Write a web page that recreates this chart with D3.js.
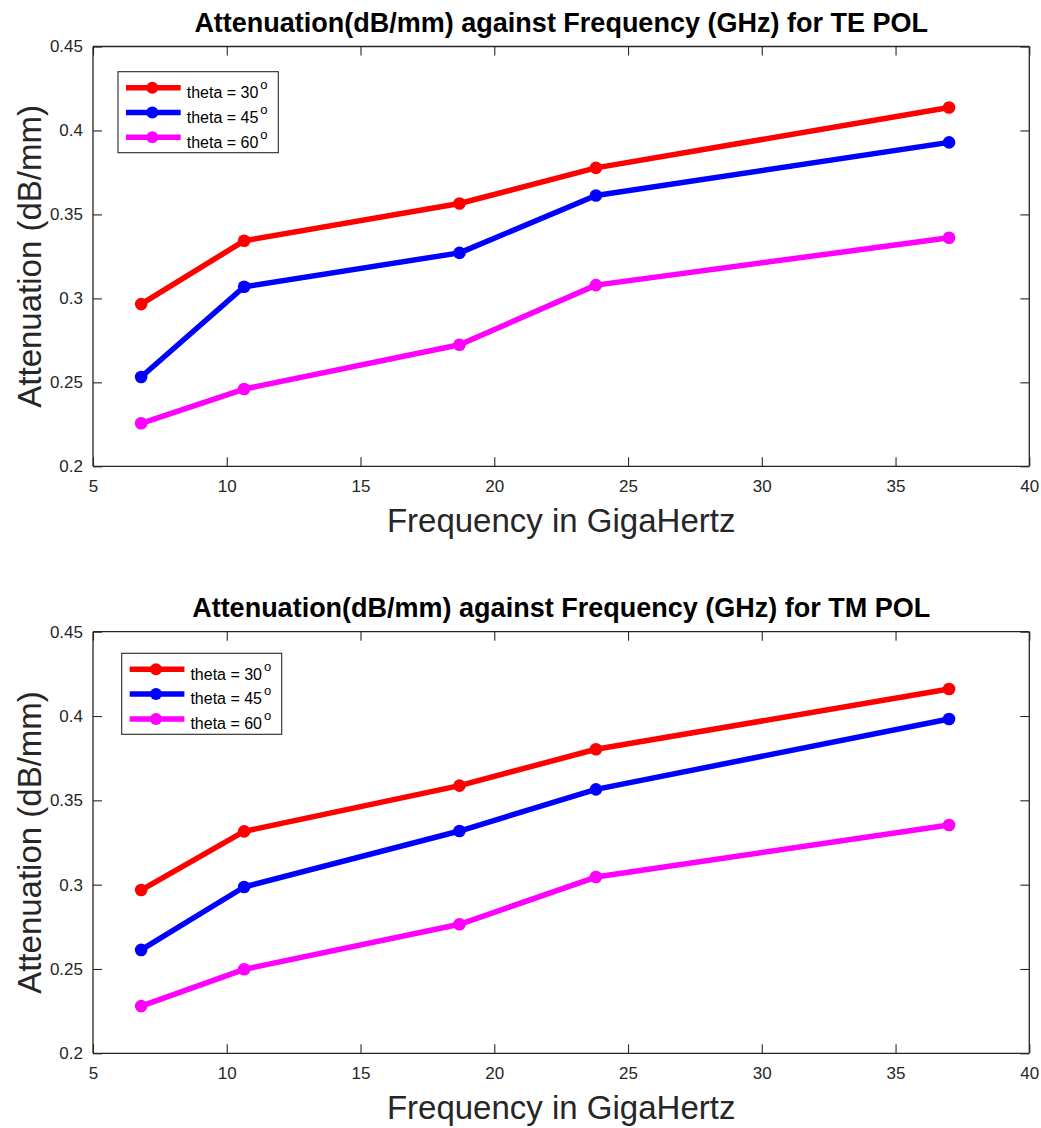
<!DOCTYPE html>
<html>
<head>
<meta charset="utf-8">
<script src="https://cdn.jsdelivr.net/npm/d3@7"></script>
<style>
  html, body { margin: 0; padding: 0; background: #fff; }
  svg { display: block; font-family: "Liberation Sans", Arial, Helvetica, sans-serif; }
</style>
</head>
<body>
<svg id="chart" width="1041" height="1128"></svg>
<script>
// ---------- data ----------
const frequencies = [6.8, 10.65, 18.7, 23.8, 37];
const seriesLabels = ["theta = 30", "theta = 45", "theta = 60"];
const seriesColors = ["#ff0000", "#0000ff", "#ff00ff"];

const teTheta30 = [0.2966, 0.3343, 0.3565, 0.3777, 0.4137];
const teTheta45 = [0.2532, 0.3069, 0.3271, 0.3613, 0.3929];
const teTheta60 = [0.2256, 0.2460, 0.2724, 0.3079, 0.3361];

const tmTheta30 = [0.2968, 0.3316, 0.3587, 0.3803, 0.4160];
const tmTheta45 = [0.2613, 0.2986, 0.3318, 0.3565, 0.3982];
const tmTheta60 = [0.2280, 0.2498, 0.2765, 0.3045, 0.3354];

const xTicks = [5, 10, 15, 20, 25, 30, 35, 40];
const yTicks = [0.2, 0.25, 0.3, 0.35, 0.4, 0.45];
const xDomain = [5, 40];
const yDomain = [0.2, 0.45];

const titles = [
  "Attenuation(dB/mm) against Frequency (GHz) for TE POL",
  "Attenuation(dB/mm) against Frequency (GHz) for TM POL"
];
const xLabel = "Frequency in GigaHertz";
const yLabel = "Attenuation (dB/mm)";

// ---------- drawing ----------
const svg = d3.select("#chart");
const axisColor = "#262626";

const panels = [
  { series: [teTheta30, teTheta45, teTheta60], title: titles[0],
    left: 93, right: 1029.3, top: 46.5, bottom: 466.3,
    legend: { x: 118, y: 71.7, w: 160.3, h: 81 } },
  { series: [tmTheta30, tmTheta45, tmTheta60], title: titles[1],
    left: 93, right: 1029.3, top: 631.7, bottom: 1053.3,
    legend: { x: 121.7, y: 653.3, w: 160, h: 81 } }
];

panels.forEach(p => {
  const g = svg.append("g");
  const x = d3.scaleLinear().domain(xDomain).range([p.left, p.right]);
  const y = d3.scaleLinear().domain(yDomain).range([p.bottom, p.top]);
  const tickLen = 9;
  const fmtY = d => String(+d.toFixed(2));

  // axes (ticks inward) on four sides
  const bottomAxis = d3.axisBottom(x).tickValues(xTicks).tickSize(-tickLen).tickPadding(14).tickFormat(d3.format("d"));
  const topAxis = d3.axisTop(x).tickValues(xTicks).tickSize(-tickLen).tickFormat("");
  const leftAxis = d3.axisLeft(y).tickValues(yTicks).tickSize(-tickLen).tickPadding(10).tickFormat(fmtY);
  const rightAxis = d3.axisRight(y).tickValues(yTicks).tickSize(-tickLen).tickFormat("");

  const styleAxis = sel => {
    sel.select(".domain").attr("stroke", axisColor).attr("stroke-width", 1.3);
    sel.selectAll(".tick line").attr("stroke", axisColor).attr("stroke-width", 1.1);
    sel.selectAll(".tick text").attr("fill", axisColor)
      .style("font-size", "17px").style("font-family", '"Liberation Sans", Arial, sans-serif');
  };

  g.append("g").attr("transform", `translate(0,${p.bottom})`).call(bottomAxis).call(styleAxis)
    .call(s => s.select(".domain").attr("d", `M${p.left},0H${p.right}`));
  g.append("g").attr("transform", `translate(0,${p.top})`).call(topAxis).call(styleAxis)
    .call(s => s.select(".domain").attr("d", `M${p.left},0H${p.right}`));
  g.append("g").attr("transform", `translate(${p.left},0)`).call(leftAxis).call(styleAxis)
    .call(s => s.select(".domain").attr("d", `M0,${p.bottom}V${p.top}`));
  g.append("g").attr("transform", `translate(${p.right},0)`).call(rightAxis).call(styleAxis)
    .call(s => s.select(".domain").attr("d", `M0,${p.bottom}V${p.top}`));

  // title
  g.append("text")
    .attr("x", (p.left + p.right) / 2)
    .attr("y", p.top - 14.8)
    .attr("text-anchor", "middle")
    .attr("font-weight", "bold")
    .attr("font-size", 27)
    .attr("fill", "#000")
    .text(p.title);

  // x label
  g.append("text")
    .attr("x", (p.left + p.right) / 2)
    .attr("y", p.bottom + 65.5)
    .attr("text-anchor", "middle")
    .attr("font-size", 33)
    .attr("fill", axisColor)
    .text(xLabel);

  // y label
  g.append("text")
    .attr("transform", `translate(41,${(p.top + p.bottom) / 2}) rotate(-90)`)
    .attr("text-anchor", "middle")
    .attr("font-size", 33)
    .attr("fill", axisColor)
    .text(yLabel);

  // series
  const line = d3.line().x((d, i) => x(frequencies[i])).y(d => y(d));
  p.series.forEach((vals, si) => {
    g.append("path")
      .datum(vals)
      .attr("d", line)
      .attr("fill", "none")
      .attr("stroke", seriesColors[si])
      .attr("stroke-width", 5.5)
      .attr("stroke-linejoin", "round");
    g.selectAll(null)
      .data(vals)
      .enter()
      .append("circle")
      .attr("cx", (d, i) => x(frequencies[i]))
      .attr("cy", d => y(d))
      .attr("r", 6.3)
      .attr("fill", seriesColors[si]);
  });

  // legend
  const L = p.legend;
  const lg = g.append("g");
  lg.append("rect")
    .attr("x", L.x).attr("y", L.y).attr("width", L.w).attr("height", L.h)
    .attr("fill", "#fff").attr("stroke", axisColor).attr("stroke-width", 1.1);
  seriesLabels.forEach((lab, si) => {
    const ry = L.y + 16 + si * 24.8;
    lg.append("line")
      .attr("x1", L.x + 8).attr("x2", L.x + 62.7)
      .attr("y1", ry).attr("y2", ry)
      .attr("stroke", seriesColors[si]).attr("stroke-width", 5.5);
    lg.append("circle")
      .attr("cx", L.x + 34.3).attr("cy", ry).attr("r", 6)
      .attr("fill", seriesColors[si]);
    const t = lg.append("text")
      .attr("x", L.x + 68.7).attr("y", ry + 10.3)
      .attr("font-size", 16).attr("fill", "#000");
    t.append("tspan").text(lab);
    t.append("tspan").attr("font-size", 13).attr("dx", 2).attr("dy", -9).text("o");
  });
});
</script>
</body>
</html>
